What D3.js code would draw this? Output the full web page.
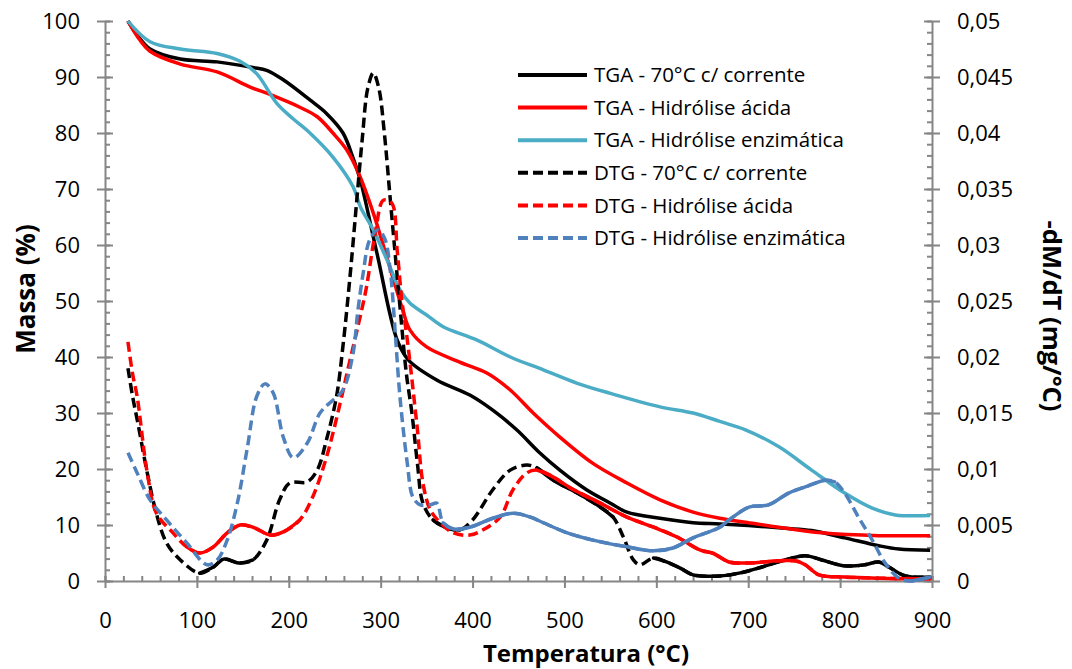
<!DOCTYPE html>
<html>
  <head>
    <meta charset="UTF-8">
    <title>TGA / DTG</title>
    <script src="https://d3js.org/d3.v7.min.js"></script>
    <style>
      body { margin: 0; background: #fff; }
      text { font-family: "Open Sans", sans-serif; fill: #000; }
    </style>
  </head>
  <body>
    <svg width="1072" height="669"></svg>
    <script>
      // TGA curves (Massa %) -- temperature, value
      const tempTgaCorrente = [25, 35, 49, 82, 122, 161, 176, 194, 223, 241, 259, 270, 278, 296, 318, 330, 361, 397, 422, 448, 473, 495, 524, 550, 568, 604, 640, 669, 700, 740, 769, 805, 842, 864, 898];
      const tgaCorrente = [100, 97.5, 95, 93.2, 92.7, 91.7, 91.2, 89.5, 85.9, 83.5, 80, 75.5, 71.5, 58.5, 43, 39.5, 35.9, 33.2, 30.5, 27, 22.9, 19.8, 16.3, 13.9, 12.3, 11.2, 10.4, 10.2, 9.9, 9.4, 9.0, 7.7, 6.3, 5.7, 5.5];

      const tempTgaAcida = [25, 35, 49, 82, 122, 158, 176, 212, 231, 248, 263, 276, 292, 310, 324, 332, 350, 386, 416, 441, 466, 495, 531, 568, 604, 640, 669, 697, 733, 780, 842, 898];
      const tgaAcida = [100, 97.3, 94.6, 92.3, 90.9, 88.2, 87.1, 84.6, 82.9, 80, 77, 72.8, 65.7, 56, 48.4, 44.8, 41.8, 39.1, 37.1, 34.1, 30, 25.7, 21, 17.5, 14.5, 12.3, 11.2, 10.5, 9.6, 8.6, 8.1, 8.1];

      const tempTgaEnzimatica = [25, 49, 82, 122, 147, 165, 187, 205, 223, 248, 270, 278, 292, 307, 321, 332, 350, 368, 405, 441, 477, 514, 550, 604, 640, 669, 697, 733, 769, 805, 835, 860, 898];
      const tgaEnzimatica = [100, 96.3, 95.0, 94.2, 92.8, 90.6, 85.3, 82.5, 80, 75.7, 70.4, 66.8, 62.7, 57.3, 52, 49.6, 47.5, 45.4, 43, 40, 37.7, 35.3, 33.5, 31.1, 30, 28.5, 27, 24, 19.8, 15.7, 13, 11.8, 11.7];

      // DTG curves (-dM/dT, mg/°C)
      const tempDtgCorrente = [25, 30, 36, 46, 56, 67, 82, 103, 118, 129, 147, 161, 176, 190, 201, 220, 231, 241, 252, 259, 267, 274, 280, 286, 292, 298, 304, 310, 316, 321, 328, 334, 340, 346, 357, 372, 386, 400, 422, 441, 459, 470, 488, 514, 539, 553, 564, 575, 582, 597, 611, 626, 640, 669, 690, 715, 740, 762, 780, 805, 827, 842, 853, 871, 898];
      const dtgCorrente = [0.019, 0.0165, 0.014, 0.00965, 0.006, 0.0034, 0.00188, 0.0007, 0.00125, 0.00195, 0.0016, 0.00188, 0.00365, 0.00725, 0.00875, 0.00885, 0.0099, 0.0126, 0.0165, 0.021, 0.0275, 0.034, 0.0395, 0.044, 0.04535, 0.044, 0.04, 0.0345, 0.029, 0.0245, 0.0185, 0.015, 0.0105, 0.00695, 0.00545, 0.00475, 0.00455, 0.00545, 0.00815, 0.0099, 0.01035, 0.0101, 0.009, 0.00785, 0.0066, 0.0057, 0.00395, 0.00188, 0.00145, 0.00205, 0.0017, 0.00115, 0.00055, 0.00045, 0.0007, 0.00125, 0.00188, 0.00225, 0.00188, 0.00135, 0.00145, 0.0017, 0.00125, 0.00045, 0.00035];

      const tempDtgAcida = [25, 30, 35, 46, 56, 74, 89, 103, 118, 133, 147, 161, 180, 194, 212, 226, 241, 256, 266, 276, 284, 294, 303, 312, 318, 323, 328, 332, 340, 346, 354, 365, 379, 397, 411, 430, 444, 459, 470, 484, 510, 539, 568, 597, 622, 648, 661, 679, 697, 733, 751, 762, 777, 805, 842, 898];
      const dtgAcida = [0.02135, 0.0185, 0.01645, 0.00965, 0.00605, 0.0043, 0.00305, 0.0025, 0.00305, 0.0043, 0.005, 0.0048, 0.0041, 0.00438, 0.00545, 0.0075, 0.01105, 0.0159, 0.0195, 0.023, 0.026, 0.031, 0.034, 0.03375, 0.0295, 0.0251, 0.02215, 0.01945, 0.0135, 0.00875, 0.00635, 0.0052, 0.0043, 0.0041, 0.00455, 0.0057, 0.00815, 0.00965, 0.0099, 0.00945, 0.00815, 0.00695, 0.0057, 0.0048, 0.00395, 0.00275, 0.0025, 0.0017, 0.0016, 0.0018, 0.0018, 0.00145, 0.00055, 0.00035, 0.00025, 0.0002];

      const tempDtgEnzimatica = [25, 35, 49, 67, 89, 111, 122, 133, 144, 155, 165, 174, 183, 194, 205, 220, 234, 248, 259, 270, 275, 281, 288, 297, 305, 310, 312, 316, 321, 329, 335, 343, 354, 361, 368, 379, 397, 422, 444, 463, 477, 503, 531, 568, 597, 618, 640, 669, 679, 701, 722, 744, 762, 784, 794, 805, 820, 835, 849, 864, 878, 898];
      const dtgEnzimatica = [0.01145, 0.00965, 0.00725, 0.00545, 0.0034, 0.00145, 0.00188, 0.00365, 0.00695, 0.01195, 0.01645, 0.0176, 0.0168, 0.01285, 0.011, 0.0123, 0.015, 0.01615, 0.01705, 0.02035, 0.024, 0.0275, 0.03045, 0.03135, 0.03045, 0.028, 0.0265, 0.022, 0.01645, 0.0105, 0.0075, 0.0068, 0.0068, 0.00695, 0.0052, 0.00465, 0.0048, 0.0056, 0.00605, 0.0057, 0.0052, 0.0043, 0.00365, 0.00305, 0.0027, 0.00295, 0.00385, 0.0048, 0.00545, 0.0066, 0.0068, 0.00785, 0.0084, 0.009, 0.00885, 0.00785, 0.0057, 0.00365, 0.0016, 0.00025, 0, 0.00035];

      // legend labels / tick values
      const seriesNames = ["TGA - 70°C c/ corrente", "TGA - Hidrólise ácida", "TGA - Hidrólise enzimática", "DTG - 70°C c/ corrente", "DTG - Hidrólise ácida", "DTG - Hidrólise enzimática"];
      const xTicks = d3.range(0, 901, 100);
      const yTicks = d3.range(0, 101, 10);
      const y2Ticks = d3.range(0, 0.0501, 0.005);

      const series = [
        { name: seriesNames[0], t: tempTgaCorrente, v: tgaCorrente, axis: "left", color: "#000000", dash: null },
        { name: seriesNames[1], t: tempTgaAcida, v: tgaAcida, axis: "left", color: "#ff0000", dash: null },
        { name: seriesNames[2], t: tempTgaEnzimatica, v: tgaEnzimatica, axis: "left", color: "#4bacc6", dash: null },
        { name: seriesNames[3], t: tempDtgCorrente, v: dtgCorrente, axis: "right", color: "#000000", dash: "10,5", solid: [[98, 166], [355, 392], [465, 556], [590, 900]] },
        { name: seriesNames[4], t: tempDtgAcida, v: dtgAcida, axis: "right", color: "#ff0000", dash: "10,5", solid: [[88, 212], [470, 900]] },
        { name: seriesNames[5], t: tempDtgEnzimatica, v: dtgEnzimatica, axis: "right", color: "#4f81bd", dash: "10,5", solid: [[368, 800], [872, 900]] },
      ];

      const svg = d3.select("svg");
      const plotLeft = 105, plotRight = 932, plotTop = 21, plotBottom = 581;
      const axisColor = "#868686";

      const x = d3.scaleLinear().domain([0, 900]).range([plotLeft, plotRight]);
      const y = d3.scaleLinear().domain([0, 100]).range([plotBottom, plotTop]);
      const y2 = d3.scaleLinear().domain([0, 0.05]).range([plotBottom, plotTop]);

      const fmtComma = d => d === 0 ? "0" : String(+d.toFixed(3)).replace(".", ",");

      function styleAxis(g) {
        g.selectAll("path, line").attr("stroke", axisColor).attr("stroke-width", 2);
        g.selectAll("text").attr("font-size", 22).attr("fill", "#000");
      }

      // minor ticks (inside)
      svg.append("g").attr("transform", `translate(${plotLeft},0)`)
        .call(d3.axisRight(y).tickValues(d3.range(0, 101, 2)).tickSize(5).tickFormat(""))
        .call(g => g.select(".domain").remove()).call(styleAxis);
      svg.append("g").attr("transform", `translate(${plotRight},0)`)
        .call(d3.axisLeft(y2).tickValues(d3.range(0, 0.0501, 0.001)).tickSize(5).tickFormat(""))
        .call(g => g.select(".domain").remove()).call(styleAxis);
      svg.append("g").attr("transform", `translate(0,${plotBottom})`)
        .call(d3.axisTop(x).tickValues(d3.range(0, 901, 20)).tickSize(5).tickFormat(""))
        .call(g => g.select(".domain").remove()).call(styleAxis);

      // major ticks cross the axis: inner halves
      svg.append("g").attr("transform", `translate(${plotLeft},0)`)
        .call(d3.axisRight(y).tickValues(yTicks).tickSize(8).tickFormat(""))
        .call(g => g.select(".domain").remove()).call(styleAxis);
      svg.append("g").attr("transform", `translate(${plotRight},0)`)
        .call(d3.axisLeft(y2).tickValues(y2Ticks).tickSize(8).tickFormat(""))
        .call(g => g.select(".domain").remove()).call(styleAxis);
      svg.append("g").attr("transform", `translate(0,${plotBottom})`)
        .call(d3.axisTop(x).tickValues(xTicks).tickSize(5).tickFormat(""))
        .call(g => g.select(".domain").remove()).call(styleAxis);

      // main axes with labels
      svg.append("g").attr("transform", `translate(${plotLeft},0)`)
        .call(d3.axisLeft(y).tickValues(yTicks).tickSize(8).tickSizeOuter(0).tickPadding(17))
        .call(styleAxis);
      svg.append("g").attr("transform", `translate(${plotRight},0)`)
        .call(d3.axisRight(y2).tickValues(y2Ticks).tickSize(8).tickSizeOuter(0).tickPadding(17).tickFormat(fmtComma))
        .call(styleAxis);
      svg.append("g").attr("transform", `translate(0,${plotBottom})`)
        .call(d3.axisBottom(x).tickValues(xTicks).tickSize(7).tickSizeOuter(0).tickPadding(24.5))
        .call(styleAxis);

      // axis titles
      svg.append("text").attr("x", 586).attr("y", 661.5)
        .attr("text-anchor", "middle").attr("font-size", 24).attr("font-weight", "bold")
        .text("Temperatura (°C)");
      svg.append("text").attr("transform", "translate(35,289) rotate(-90)")
        .attr("text-anchor", "middle").attr("font-size", 26).attr("font-weight", "bold")
        .text("Massa (%)");
      svg.append("text").attr("transform", "translate(1043,316) rotate(90)")
        .attr("text-anchor", "middle").attr("font-size", 25.5).attr("font-weight", "bold")
        .text("-dM/dT (mg/°C)");

      // curves
      const plot = svg.append("g").attr("fill", "none").attr("stroke-width", 3.5)
        .attr("stroke-linejoin", "round");

      series.forEach(s => {
        const ys = s.axis === "left" ? y : y2;
        const pts = s.t.map((t, i) => ({ t, v: s.v[i] }));
        const line = d3.line().x(d => x(d.t)).y(d => ys(d.v)).curve(d3.curveCatmullRom.alpha(0.5));
        plot.append("path").datum(pts)
          .attr("stroke", s.color)
          .attr("stroke-dasharray", s.dash)
          .attr("d", line);
        if (s.solid) {
          // Excel draws the dense parts of these series as an unbroken line
          const inSolid = d => s.solid.some(r => d.t >= r[0] && d.t <= r[1]);
          plot.append("path").datum(pts)
            .attr("stroke", s.color)
            .attr("stroke-linecap", "round")
            .attr("d", line.defined(inSolid));
        }
      });

      // legend
      const legend = svg.append("g");
      series.forEach((s, i) => {
        const ly = 75 + i * 32.6;
        legend.append("line").attr("x1", 518).attr("x2", 587).attr("y1", ly).attr("y2", ly)
          .attr("stroke", s.color).attr("stroke-width", 4).attr("stroke-dasharray", s.dash);
        legend.append("text").attr("x", 594).attr("y", ly).attr("dy", "0.35em")
          .attr("font-size", 20.5).text(s.name);
      });
    </script>
  </body>
</html>
